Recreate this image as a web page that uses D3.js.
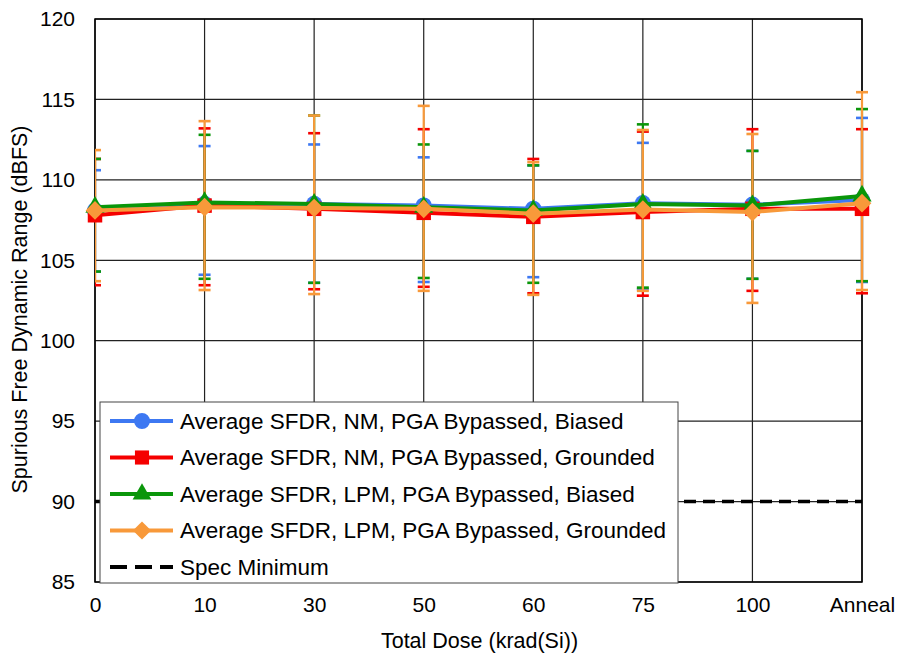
<!DOCTYPE html>
<html>
<head>
<meta charset="utf-8">
<script src="https://cdn.jsdelivr.net/npm/d3@7"></script>
<style>
  body { margin: 0; background: #fff; }
  svg { font-family: "Liberation Sans", Arial, sans-serif; }
</style>
</head>
<body>
<svg id="chart" width="898" height="654"></svg>
<script>
// dose steps
const categories = ["0", "10", "30", "50", "60", "75", "100", "Anneal"];

// averages (dBFS)
const nmBiased     = [108.1, 108.5, 108.5, 108.4, 108.2, 108.55, 108.45, 108.75];
const nmGrounded   = [107.8, 108.4, 108.2, 107.95, 107.7, 108.0, 108.2, 108.2];
const lpmBiased    = [108.3, 108.6, 108.5, 108.3, 108.1, 108.5, 108.4, 109.0];
const lpmGrounded  = [108.1, 108.3, 108.25, 108.2, 107.9, 108.15, 108.0, 108.55];

// error bar ends (max / min)
const nmBiasedHi    = [110.6, 112.1, 112.2, 111.4, 110.9, 112.3, 111.8, 113.85];
const nmBiasedLo    = [104.3, 104.1, 103.6, 103.65, 103.95, 103.2, 103.85, 103.65];
const nmGroundedHi  = [111.3, 113.2, 112.9, 113.15, 111.3, 113.0, 113.15, 113.15];
const nmGroundedLo  = [103.45, 103.45, 103.2, 103.35, 102.95, 102.8, 103.1, 102.95];
const lpmBiasedHi   = [111.3, 112.8, 114.0, 112.2, 110.9, 113.45, 111.8, 114.4];
const lpmBiasedLo   = [104.3, 103.85, 103.6, 103.9, 103.6, 103.3, 103.85, 103.7];
const lpmGroundedHi = [111.85, 113.65, 114.0, 114.6, 111.1, 113.1, 112.85, 115.45];
const lpmGroundedLo = [103.7, 103.15, 102.9, 103.1, 102.85, 103.1, 102.35, 103.15];

const specMin = 90;
const yTicks = [85, 90, 95, 100, 105, 110, 115, 120];

// diamond = square turned 45deg
const diamondSym = {
  draw(ctx, size) {
    const r = Math.sqrt(size) / Math.SQRT2;
    ctx.moveTo(0, -r); ctx.lineTo(r, 0); ctx.lineTo(0, r); ctx.lineTo(-r, 0); ctx.closePath();
  }
};

const series = [
  { name: "Average SFDR, NM, PGA Bypassed, Biased", avg: nmBiased, hi: nmBiasedHi, lo: nmBiasedLo, color: "#3d78f2", sym: d3.symbolCircle, size: 210 },
  { name: "Average SFDR, NM, PGA Bypassed, Grounded", avg: nmGrounded, hi: nmGroundedHi, lo: nmGroundedLo, color: "#f50000", sym: d3.symbolSquare, size: 210 },
  { name: "Average SFDR, LPM, PGA Bypassed, Biased", avg: lpmBiased, hi: lpmBiasedHi, lo: lpmBiasedLo, color: "#0a960a", sym: d3.symbolTriangle, size: 160 },
  { name: "Average SFDR, LPM, PGA Bypassed, Grounded", avg: lpmGrounded, hi: lpmGroundedHi, lo: lpmGroundedLo, color: "#f8993a", sym: diamondSym, size: 175 }
];

const margin = { top: 19, right: 36, bottom: 72, left: 95 };
const width = 898, height = 654;
const innerW = width - margin.left - margin.right;
const innerH = height - margin.top - margin.bottom;

const svg = d3.select("#chart");
const g = svg.append("g").attr("transform", `translate(${margin.left},${margin.top})`);

const x = d3.scalePoint().domain(categories).range([0, innerW]).padding(0);
const y = d3.scaleLinear().domain([85, 120]).range([innerH, 0]);

// grid
g.append("g")
  .selectAll("line.h")
  .data(yTicks)
  .join("line")
  .attr("x1", 0).attr("x2", innerW)
  .attr("y1", d => y(d)).attr("y2", d => y(d))
  .attr("stroke", "#222").attr("stroke-width", 1.2);

g.append("g")
  .selectAll("line.v")
  .data(categories)
  .join("line")
  .attr("x1", d => x(d)).attr("x2", d => x(d))
  .attr("y1", 0).attr("y2", innerH)
  .attr("stroke", "#222").attr("stroke-width", 1.2);

g.append("rect")
  .attr("width", innerW).attr("height", innerH)
  .attr("fill", "none").attr("stroke", "#000").attr("stroke-width", 1.5);

// axes labels
const yAxis = g.append("g").call(d3.axisLeft(y).tickValues(yTicks).tickSize(0).tickPadding(20));
yAxis.select(".domain").remove();
yAxis.selectAll("text").attr("font-size", 21).attr("fill", "#000").attr("font-family", "Liberation Sans, Arial, sans-serif");

const xAxis = g.append("g").attr("transform", `translate(0,${innerH})`)
  .call(d3.axisBottom(x).tickSize(0).tickPadding(15));
xAxis.select(".domain").remove();
xAxis.selectAll("text").attr("font-size", 21).attr("fill", "#000").attr("font-family", "Liberation Sans, Arial, sans-serif");

svg.append("text")
  .attr("x", margin.left + innerW / 2 + 1).attr("y", 648)
  .attr("text-anchor", "middle").attr("font-size", 21.5)
  .text("Total Dose (krad(Si))");

svg.append("text")
  .attr("transform", `translate(27,${margin.top + innerH / 2 + 9}) rotate(-90)`)
  .attr("text-anchor", "middle").attr("font-size", 21.5)
  .text("Spurious Free Dynamic Range (dBFS)");

// spec line
g.append("line")
  .attr("x1", 0).attr("x2", innerW)
  .attr("y1", y(specMin)).attr("y2", y(specMin))
  .attr("stroke", "#000").attr("stroke-width", 3.5)
  .attr("stroke-dasharray", "12,7");

// clip caps at the left edge only
svg.append("clipPath").attr("id", "clip")
  .append("rect").attr("x", 0).attr("y", -10).attr("width", innerW + 20).attr("height", innerH + 20);

const capW = 6;
const eb = g.append("g").attr("clip-path", "url(#clip)");
series.forEach(s => {
  const grp = eb.append("g").attr("stroke", s.color).attr("stroke-width", 2.2);
  categories.forEach((c, i) => {
    grp.append("line")
      .attr("x1", x(c)).attr("x2", x(c))
      .attr("y1", y(s.hi[i])).attr("y2", y(s.lo[i]));
    [s.hi[i], s.lo[i]].forEach(v => {
      grp.append("line")
        .attr("x1", x(c) - capW).attr("x2", x(c) + capW)
        .attr("y1", y(v)).attr("y2", y(v))
        .attr("stroke-width", 2.6);
    });
  });
});

const line = d3.line().x((d, i) => x(categories[i])).y(d => y(d));

series.forEach(s => {
  g.append("path")
    .datum(s.avg)
    .attr("fill", "none")
    .attr("stroke", s.color)
    .attr("stroke-width", 4)
    .attr("d", line);
  g.append("g")
    .selectAll("path")
    .data(s.avg)
    .join("path")
    .attr("transform", (d, i) => `translate(${x(categories[i])},${y(d)})`)
    .attr("d", d3.symbol().type(s.sym).size(s.size))
    .attr("fill", s.color);
});

// legend
const lg = svg.append("g").attr("transform", "translate(100,402)");
lg.append("rect")
  .attr("width", 578).attr("height", 181)
  .attr("fill", "#fff").attr("stroke", "#444").attr("stroke-width", 1);

const legendItems = series.map(s => ({ name: s.name, color: s.color, sym: s.sym, size: s.size }))
  .concat([{ name: "Spec Minimum", color: "#000", dash: true }]);

legendItems.forEach((it, i) => {
  const row = lg.append("g").attr("transform", `translate(0,${19 + i * 36.5})`);
  row.append("line")
    .attr("x1", 10).attr("x2", 73)
    .attr("stroke", it.color)
    .attr("stroke-width", 4)
    .attr("stroke-dasharray", it.dash ? "17,8" : null);
  if (it.sym) {
    row.append("path")
      .attr("transform", "translate(42,0)")
      .attr("d", d3.symbol().type(it.sym).size(it.size * 0.95))
      .attr("fill", it.color);
  }
  row.append("text")
    .attr("x", 80).attr("dy", "0.35em")
    .attr("font-size", 22.5)
    .text(it.name);
});
</script>
</body>
</html>
